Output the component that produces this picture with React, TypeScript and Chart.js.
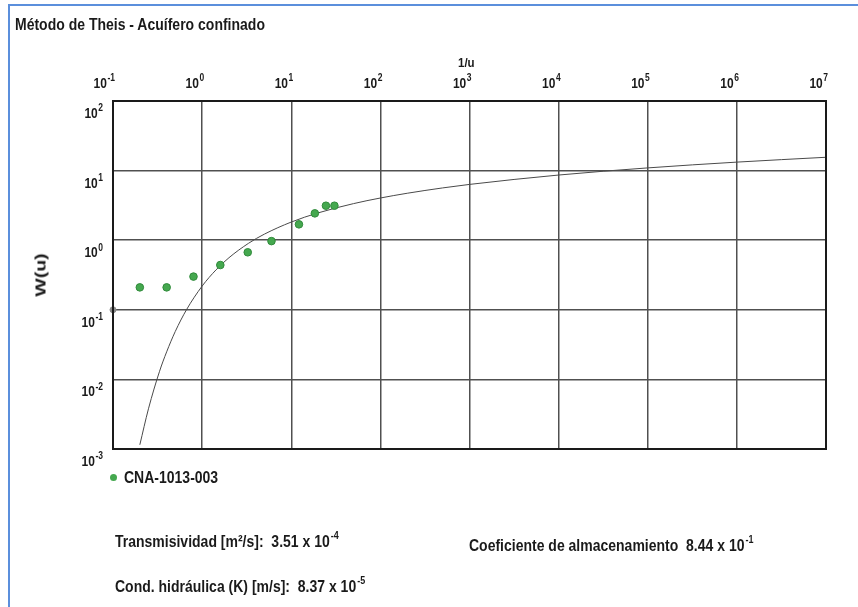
import React, { useEffect, useRef } from 'react';
import { Chart, registerables } from 'chart.js';

Chart.register(...registerables);

// ---------- data ----------
const chartTitle = 'Método de Theis - Acuífero confinado';
const xAxisTitle = '1/u';
const yAxisTitle = 'W(u)';
const seriesName = 'CNA-1013-003';

// decade ticks (log axes)
const xTickValues = [0.1, 1, 10, 100, 1000, 10000, 100000, 1000000, 10000000];
const yTickValues = [0.001, 0.01, 0.1, 1, 10, 100];

// observed points (1/u , W(u))
const obsInvU = [0.2, 0.4, 0.8, 1.6, 3.25, 6.0, 12.2, 18.4, 24.5, 30.5];
const obsW = [0.21, 0.21, 0.3, 0.44, 0.67, 0.97, 1.69, 2.43, 3.13, 3.13];

const curveInvU = [0.2, 0.25, 0.333, 0.4, 0.5, 0.667, 1, 1.43, 2, 3.33, 5, 10, 20, 50, 100, 200, 500, 1000, 10000, 100000, 1000000, 10000000];
const curveW = [0.00115, 0.00378, 0.0131, 0.0249, 0.0489, 0.1, 0.219, 0.374, 0.56, 0.906, 1.223, 1.823, 2.468, 3.355, 4.038, 4.726, 5.639, 6.332, 8.633, 10.936, 13.238, 15.541];

// small grey reference marker on the left axis
const markInvU = [0.1];
const markW = [0.1];

// result annotations
const transLabel = 'Transmisividad [m²/s]:  3.51 x 10';
const transExp = '-4';
const condLabel = 'Cond. hidráulica (K) [m/s]:  8.37 x 10';
const condExp = '-5';
const coefLabel = 'Coeficiente de almacenamiento  8.44 x 10';
const coefExp = '-1';

// ---------- styles ----------
const FONT = '"Liberation Sans", Arial, Helvetica, sans-serif';
const textColor = '#1a1a1a';

const tickLabelPlugin = {
  id: 'tickLabelPlugin',
  afterDraw(chart: any) {
    const ctx = chart.ctx;
    const area = chart.chartArea;
    const xs = chart.scales.x;
    const ys = chart.scales.y;
    ctx.save();
    ctx.strokeStyle = '#1a1a1a';
    ctx.lineWidth = 2;
    ctx.strokeRect(area.left, area.top, area.right - area.left, area.bottom - area.top);

    const baseFont = `bold 12px ${FONT}`;
    const expFont = `bold 8.5px ${FONT}`;
    ctx.fillStyle = textColor;
    ctx.textAlign = 'left';
    ctx.textBaseline = 'alphabetic';
    const draw = (value: number, rightX: number, baseY: number) => {
      const exp = String(Math.round(Math.log10(value)));
      ctx.font = baseFont;
      const w10 = ctx.measureText('10').width;
      ctx.font = expFont;
      const we = ctx.measureText(exp).width;
      const start = rightX - w10 - we - 0.5;
      ctx.save();
      ctx.translate(0, baseY);
      ctx.scale(1, 1.2);
      ctx.font = baseFont;
      ctx.fillText('10', start, 0);
      ctx.font = expFont;
      ctx.fillText(exp, start + w10 + 0.5, -5.5);
      ctx.restore();
    };
    xs.ticks.forEach((t: any) => {
      draw(t.value, xs.getPixelForValue(t.value) + 2, area.top - 13);
    });
    ys.ticks.forEach((t: any) => {
      draw(t.value, area.left - 10, ys.getPixelForValue(t.value) + 17);
    });
    ctx.restore();
  },
};

export default function App() {
  const canvasRef = useRef<HTMLCanvasElement | null>(null);

  useEffect(() => {
    if (!canvasRef.current) return;
    const chart = new Chart(canvasRef.current, {
      type: 'scatter',
      data: {
        datasets: [
          {
            label: 'Theis',
            data: curveInvU.map((x, i) => ({ x, y: curveW[i] })),
            showLine: true,
            borderColor: '#4a4a4a',
            borderWidth: 1,
            pointRadius: 0,
            cubicInterpolationMode: 'monotone',
            fill: false,
            order: 2,
          },
          {
            label: seriesName,
            data: obsInvU.map((x, i) => ({ x, y: obsW[i] })),
            pointRadius: 3.8,
            pointBackgroundColor: '#45a84f',
            pointBorderColor: '#2f8a3a',
            pointBorderWidth: 1,
            order: 1,
          },
          {
            label: 'marker',
            data: markInvU.map((x, i) => ({ x, y: markW[i] })),
            pointRadius: 3,
            pointBackgroundColor: '#8a8a8a',
            pointBorderColor: '#8a8a8a',
            clip: false,
            order: 0,
          } as any,
        ],
      },
      options: {
        animation: false,
        responsive: false,
        layout: { padding: { left: 113, top: 101, right: 32, bottom: 158 } },
        plugins: { legend: { display: false }, tooltip: { enabled: false } },
        scales: {
          x: {
            type: 'logarithmic',
            position: 'top',
            min: 0.1,
            max: 10000000,
            afterBuildTicks: (scale: any) => {
              scale.ticks = xTickValues.map((v) => ({ value: v }));
            },
            ticks: { display: false },
            grid: { color: '#505050', lineWidth: 1.5, drawTicks: false },
            border: { display: false },
          },
          y: {
            type: 'logarithmic',
            min: 0.001,
            max: 100,
            afterBuildTicks: (scale: any) => {
              scale.ticks = yTickValues.map((v) => ({ value: v }));
            },
            ticks: { display: false },
            grid: { color: '#505050', lineWidth: 1.5, drawTicks: false },
            border: { display: false },
          },
        },
      } as any,
      plugins: [tickLabelPlugin],
    });
    return () => chart.destroy();
  }, []);

  const txt = (size: number): React.CSSProperties => ({
    position: 'absolute',
    fontFamily: FONT,
    fontWeight: 'bold',
    fontSize: size,
    lineHeight: 1,
    color: textColor,
    whiteSpace: 'pre',
    transform: 'scaleY(1.15)',
    transformOrigin: '0 85%',
  });
  const sup: React.CSSProperties = { fontSize: 9, position: 'relative', top: -7, marginLeft: 1 };

  return (
    <div style={{ position: 'fixed', left: 0, top: 0, width: 858, height: 607, background: '#fff', overflow: 'hidden' }}>
      <div style={{ position: 'absolute', left: 8, top: 4, width: 900, height: 700, borderTop: '2px solid #5b8fdc', borderLeft: '2px solid #5b8fdc' }} />
      <canvas ref={canvasRef} width={858} height={607} style={{ position: 'absolute', left: 0, top: 0 }} />
      <div style={{ ...txt(14), left: 15, top: 18 }}>{chartTitle}</div>
      <div style={{ ...txt(11.5), left: 458, top: 58 }}>{xAxisTitle}</div>
      <div
        style={{
          ...txt(15),
          left: 40,
          top: 275,
          transformOrigin: '50% 50%',
          transform: 'translate(-50%, -50%) rotate(-90deg) scaleX(1.3)',
        }}
      >
        {yAxisTitle}
      </div>
      <div style={{ position: 'absolute', left: 109.5, top: 473.5, width: 7, height: 7, borderRadius: '50%', background: '#45a84f' }} />
      <div style={{ ...txt(14), left: 124, top: 471 }}>{seriesName}</div>
      <div style={{ ...txt(14), left: 115, top: 535 }}>{transLabel}<span style={sup}>{transExp}</span></div>
      <div style={{ ...txt(14), left: 115, top: 580 }}>{condLabel}<span style={sup}>{condExp}</span></div>
      <div style={{ ...txt(14), left: 469, top: 539 }}>{coefLabel}<span style={sup}>{coefExp}</span></div>
    </div>
  );
}
